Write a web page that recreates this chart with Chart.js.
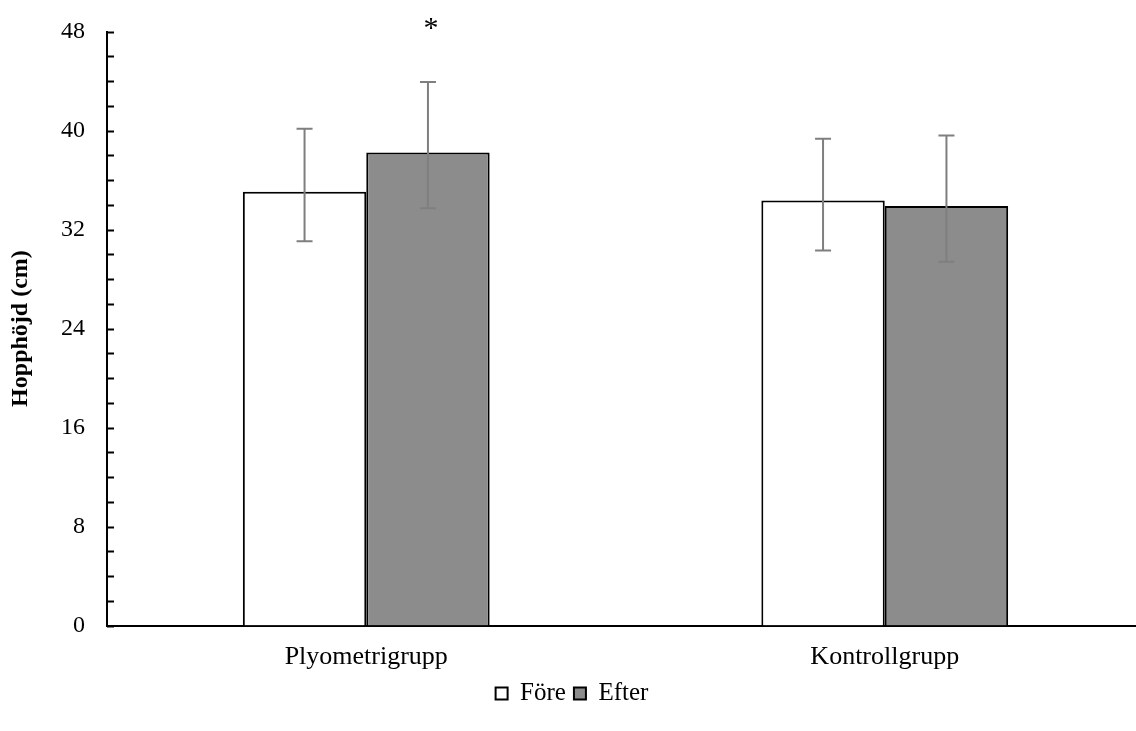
<!DOCTYPE html>
<html>
<head>
<meta charset="utf-8">
<script src="https://cdn.jsdelivr.net/npm/chart.js@4"></script>
<style>
  html, body { margin: 0; padding: 0; background: #fff; overflow: hidden; }
  #wrap { width: 1144px; height: 731px; }
</style>
</head>
<body>
<div id="wrap"><canvas id="diag-hopp" width="1144" height="731"></canvas></div>
<script>
// donnees
const groupes = ['Plyometrigrupp', 'Kontrollgrupp'];
const fore = [35.05, 34.35];
const efter = [38.22, 33.9];
const foreUp = [5.1, 5.0];
const foreDown = [4.0, 4.05];
const efterUp = [5.7, 5.7];
const efterDown = [4.5, 4.5];
const efterMark = ['*', ''];
const yTicks = [0, 8, 16, 24, 32, 40, 48];

const serif = "'Liberation Serif', 'Times New Roman', serif";

// barres d'erreur + petits traits de l'axe y + asterisque
const extras = {
  id: 'extras',
  afterDatasetsDraw(chart) {
    const ctx = chart.ctx;
    const y = chart.scales.y;
    const errs = [[foreUp, foreDown], [efterUp, efterDown]];
    ctx.save();
    ctx.strokeStyle = '#7f7f7f';
    ctx.lineWidth = 2;
    chart.data.datasets.forEach((ds, i) => {
      const meta = chart.getDatasetMeta(i);
      meta.data.forEach((bar, j) => {
        const v = ds.data[j];
        const top = y.getPixelForValue(v + errs[i][0][j]);
        const bot = y.getPixelForValue(v - errs[i][1][j]);
        ctx.beginPath();
        ctx.moveTo(bar.x, top); ctx.lineTo(bar.x, bot);
        ctx.moveTo(bar.x - 8, top); ctx.lineTo(bar.x + 8, top);
        ctx.moveTo(bar.x - 8, bot); ctx.lineTo(bar.x + 8, bot);
        ctx.stroke();
      });
    });
    // traits vers l'interieur
    ctx.strokeStyle = '#000';
    for (let v = 0; v <= 48; v += 2) {
      const py = Math.round(y.getPixelForValue(v)) + 0.5;
      ctx.beginPath();
      ctx.moveTo(y.right, py); ctx.lineTo(y.right + 7, py);
      ctx.stroke();
    }
    // asterisque
    const meta = chart.getDatasetMeta(1);
    ctx.fillStyle = '#000';
    ctx.font = '30px ' + serif;
    ctx.textAlign = 'center';
    ctx.textBaseline = 'middle';
    meta.data.forEach((bar, j) => {
      if (efterMark[j]) ctx.fillText(efterMark[j], bar.x + 3, y.getPixelForValue(48) - 2);
    });
    ctx.restore();
  }
};

new Chart(document.getElementById('diag-hopp'), {
  type: 'bar',
  data: {
    labels: groupes,
    datasets: [{
      label: 'Före',
      data: fore,
      backgroundColor: '#ffffff',
      borderColor: '#000000',
      borderWidth: 2,
      categoryPercentage: 0.476,
      barPercentage: 1
    }, {
      label: 'Efter',
      data: efter,
      backgroundColor: '#8c8c8c',
      borderColor: '#000000',
      borderWidth: 2,
      categoryPercentage: 0.476,
      barPercentage: 1
    }]
  },
  options: {
    responsive: false,
    animation: false,
    layout: { padding: { top: 30, left: 0, right: 0, bottom: 15 } },
    scales: {
      x: {
        afterFit: s => { s.height = 47.5; },
        grid: { display: false, drawTicks: false },
        border: { color: '#000', width: 2 },
        ticks: { color: '#000', font: { family: serif, size: 26 }, padding: 16 }
      },
      y: {
        min: 0,
        max: 48,
        afterFit: s => { s.width = 107; },
        afterBuildTicks: s => { s.ticks = yTicks.map(v => ({ value: v })); },
        grid: { display: false, drawTicks: false },
        border: { color: '#000', width: 2 },
        ticks: { color: '#000', font: { family: serif, size: 24, lineHeight: 0.8 }, padding: 22 },
        title: {
          display: true,
          text: 'Hopphöjd (cm)',
          color: '#000',
          font: { family: serif, size: 24, weight: 'bold' },
          padding: { top: 6, bottom: 0 }
        }
      }
    },
    plugins: {
      legend: {
        position: 'bottom',
        labels: {
          color: '#000',
          font: { family: serif, size: 25 },
          boxWidth: 12,
          boxHeight: 12,
          padding: 8
        }
      },
      tooltip: { enabled: false }
    }
  },
  plugins: [extras]
});
</script>
</body>
</html>
